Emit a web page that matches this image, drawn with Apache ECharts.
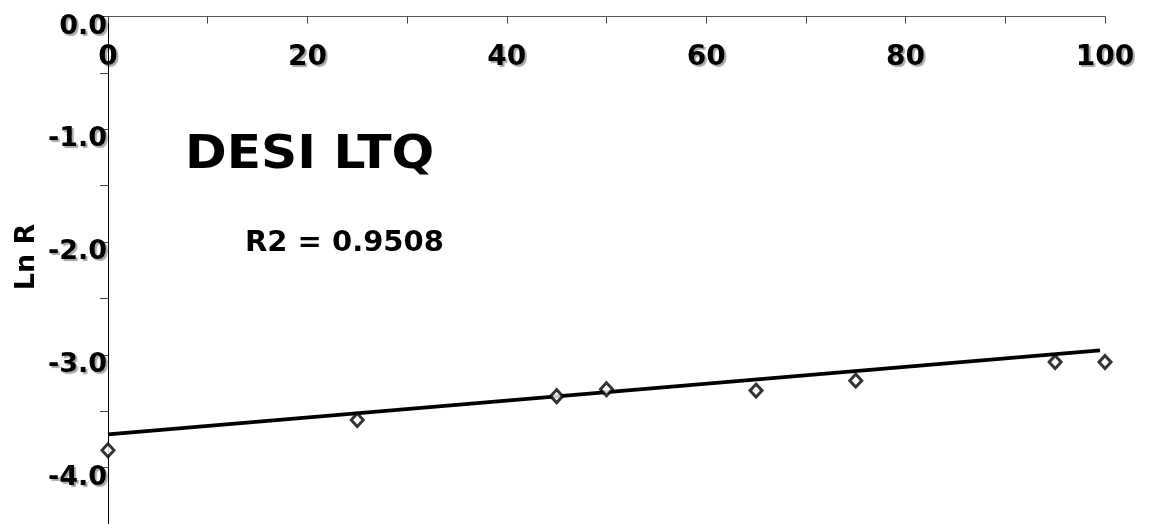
<!DOCTYPE html>
<html>
<head>
<meta charset="utf-8">
<script src="https://cdn.jsdelivr.net/npm/echarts@6/dist/echarts.min.js"></script>
<style>
html,body{margin:0;padding:0;background:#fff;}
#chart{width:1151px;height:524px;}
</style>
</head>
<body>
<div id="chart"></div>
<script>
// Data
const concentration = [0, 25, 45, 50, 65, 75, 95, 100];
const lnR = [-3.846, -3.578, -3.367, -3.305, -3.317, -3.229, -3.064, -3.064];
const trendX = [0, 99.5];
const trendY = [-3.705, -2.961];
const xTickLabels = [0, 20, 40, 60, 80, 100];
const yTickLabels = [0, -1, -2, -3, -4];
const chartTitle = 'DESI LTQ';
const r2Text = 'R2 = 0.9508';
const yAxisName = 'Ln R';

const FONT = 'DejaVu Sans';
const shadow = {
  textShadowColor: 'rgba(0,0,0,0.35)',
  textShadowOffsetX: 2,
  textShadowOffsetY: 2,
  textShadowBlur: 1
};

const chart = echarts.init(document.getElementById('chart'));
chart.setOption({
  animation: false,
  backgroundColor: '#fff',
  grid: { left: 108, right: 46, top: 16.5, height: 510.3, containLabel: false },
  xAxis: {
    type: 'value',
    position: 'top',
    min: 0, max: 100, interval: 10,
    axisLine: { show: true, lineStyle: { color: '#555', width: 1 } },
    axisTick: { show: true, inside: true, length: 7, lineStyle: { color: '#444', width: 1 } },
    splitLine: { show: false },
    axisLabel: {
      inside: true,
      margin: 41,
      verticalAlign: 'middle',
      fontFamily: FONT, fontWeight: 'bold', fontSize: 28, color: '#000',
      ...shadow,
      formatter: v => xTickLabels.indexOf(Math.round(v)) >= 0 ? String(Math.round(v)) : ''
    }
  },
  yAxis: {
    type: 'value',
    min: -4.5, max: 0, interval: 0.5,
    axisLine: { show: true, onZero: false, lineStyle: { color: '#000', width: 1 } },
    axisTick: { show: true, inside: false, length: 8, lineStyle: { color: '#444', width: 1 } },
    splitLine: { show: false },
    axisLabel: {
      margin: 1,
      align: 'right',
      verticalAlign: 'top',
      lineHeight: 20,
      fontFamily: FONT, fontWeight: 'bold', fontSize: 27, color: '#000',
      ...shadow,
      formatter: v => {
        const r = Math.round(v * 10) / 10;
        return yTickLabels.indexOf(r) >= 0 ? r.toFixed(1) : '';
      }
    }
  },
  graphic: [
    {
      type: 'text', x: 185, y: 132, scaleX: 1.07, silent: true,
      style: { text: chartTitle, font: 'bold 47px "DejaVu Sans"', fill: '#000',
        shadowColor: 'rgba(0,0,0,0.35)', shadowOffsetX: 3, shadowOffsetY: 3, shadowBlur: 1 }
    },
    {
      type: 'text', x: 245, y: 229, silent: true,
      style: { text: r2Text, font: 'bold 29px "DejaVu Sans"', fill: '#000',
        shadowColor: 'rgba(0,0,0,0.35)', shadowOffsetX: 2, shadowOffsetY: 2, shadowBlur: 1 }
    },
    {
      type: 'text', x: 27, y: 257, rotation: Math.PI / 2, silent: true,
      style: { text: yAxisName, font: 'bold 27px "DejaVu Sans"', fill: '#000',
        align: 'center', verticalAlign: 'middle',
        shadowColor: 'rgba(0,0,0,0.35)', shadowOffsetX: 2, shadowOffsetY: 2, shadowBlur: 1 }
    }
  ],
  series: [
    {
      type: 'line',
      data: trendX.map((x, i) => [x, trendY[i]]),
      symbol: 'none',
      clip: false,
      lineStyle: { color: '#000', width: 3.8 },
      z: 2
    },
    {
      type: 'scatter',
      data: concentration.map((x, i) => [x, lnR[i]]),
      symbol: 'diamond',
      symbolSize: [12, 13],
      clip: false,
      itemStyle: { color: '#fff', borderColor: '#000', borderWidth: 3 },
      z: 3
    }
  ]
});
</script>
</body>
</html>
